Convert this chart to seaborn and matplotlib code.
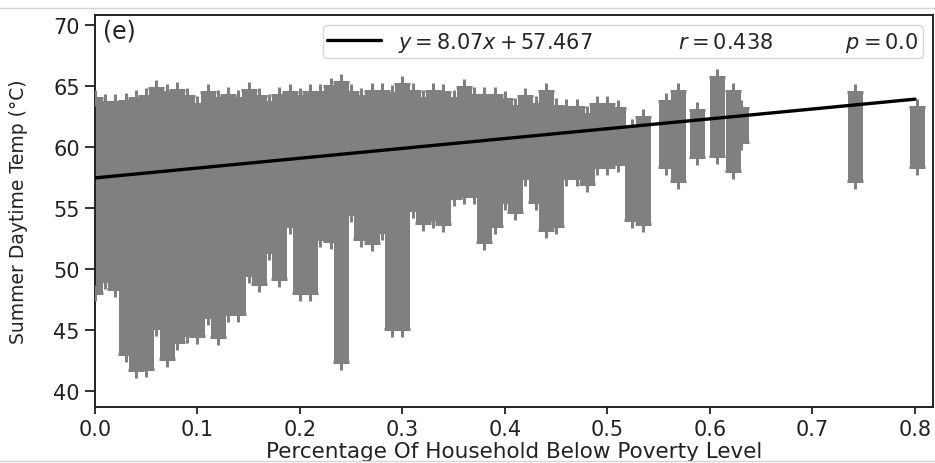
import numpy as np
import pandas as pd
import matplotlib
matplotlib.use("Agg")
import matplotlib.pyplot as plt
from matplotlib.lines import Line2D
import seaborn as sns

# Poverty-level groups with the warmest and coolest summer daytime temperature in each
poverty_level = [
    0.00, 0.01, 0.02, 0.03, 0.04, 0.05, 0.06, 0.07, 0.08, 0.09,
    0.10, 0.11, 0.12, 0.13, 0.14, 0.15, 0.16, 0.17, 0.18, 0.19,
    0.20, 0.21, 0.22, 0.23, 0.24, 0.25, 0.26, 0.27, 0.28, 0.29,
    0.30, 0.31, 0.32, 0.33, 0.34, 0.35, 0.36, 0.37, 0.38, 0.39,
    0.40, 0.41, 0.42, 0.43, 0.44, 0.45, 0.46, 0.47, 0.48, 0.49,
    0.50, 0.51,
    0.524, 0.535, 0.557, 0.569, 0.587, 0.607, 0.622, 0.630, 0.7415, 0.8024,
]
temp_high = [
    64.0, 63.7, 63.7, 63.8, 64.0, 64.2, 64.8, 64.5, 64.7, 64.2,
    63.5, 64.5, 64.0, 64.3, 64.0, 64.7, 64.2, 63.7, 64.3, 64.5,
    64.2, 64.5, 64.5, 65.0, 65.3, 64.5, 64.2, 64.6, 64.6, 64.4,
    65.2, 64.6, 64.0, 64.6, 64.5, 64.0, 64.9, 64.3, 64.3, 64.3,
    63.9, 63.4, 64.2, 63.5, 64.6, 63.4, 63.3, 63.3, 62.7, 63.5,
    63.5, 63.2,
    61.6, 62.5, 63.8, 64.6, 63.0, 65.7, 64.6, 63.2, 64.5, 63.3,
]
temp_low = [
    48.0, 49.0, 48.4, 43.0, 41.7, 41.8, 45.2, 42.6, 44.0, 44.6,
    44.5, 46.1, 44.4, 46.3, 46.3, 49.5, 48.8, 51.4, 49.2, 53.5,
    48.0, 48.0, 52.5, 52.3, 42.4, 54.5, 52.5, 52.1, 53.0, 45.1,
    45.1, 54.8, 53.8, 54.0, 53.7, 55.8, 56.0, 56.0, 52.2, 53.5,
    55.5, 54.7, 57.5, 55.5, 53.2, 53.5, 57.5, 57.5, 57.0, 58.4,
    58.4, 58.6,
    54.0, 53.7, 58.4, 57.2, 59.2, 59.3, 58.0, 60.4, 57.2, 58.4,
]

# Fitted trend and its statistics
slope = 8.07
intercept = 57.467
r_value = 0.438
p_value = 0.0
fit_x = [0.0, 0.80]

x_ticks = [0.0, 0.1, 0.2, 0.3, 0.4, 0.5, 0.6, 0.7, 0.8]
y_ticks = [40, 45, 50, 55, 60, 65, 70]

sns.set_style("ticks")
plt.rcParams["font.family"] = ["DejaVu Sans"]
plt.rcParams["mathtext.fontset"] = "dejavusans"

fig = plt.figure(figsize=(9.35, 4.64), dpi=100)
ax = fig.add_axes([0.1016, 0.1207, 0.8963, 0.8448])

point_color = "#808080"

# Dense stacks of observations in each group
ax.vlines(poverty_level, temp_low, temp_high, colors=point_color,
          linewidth=10.8, capstyle="butt", zorder=2)

ends = pd.DataFrame({
    "poverty": list(poverty_level) * 2,
    "temp": list(temp_low) + list(temp_high),
})
sns.scatterplot(data=ends, x="poverty", y="temp", marker="+", s=130,
                linewidth=2.2, color=point_color, ax=ax, legend=False,
                zorder=3)

fit = pd.DataFrame({"x": fit_x, "y": [intercept + slope * v for v in fit_x]})
label = (rf"$y = {slope:.2f}x + {intercept:.3f}$" + " " * 13
         + rf"$r = {r_value:.3f}$" + " " * 11 + rf"$p = {p_value:.1f}$")
sns.lineplot(data=fit, x="x", y="y", color="black", linewidth=2.4,
             ax=ax, label=label, zorder=4)

ax.set_xlim(0.0, 0.8176)
ax.set_ylim(38.69, 70.82)
ax.set_xticks(x_ticks)
ax.set_xticklabels([f"{v:.1f}" for v in x_ticks])
ax.set_yticks(y_ticks)
ax.set_yticklabels([str(v) for v in y_ticks])
ax.tick_params(axis="both", labelsize=15, colors="#222222", width=1.3)
ax.tick_params(axis="x", length=5, pad=4)
ax.tick_params(axis="y", length=7, pad=4)
for side in ax.spines.values():
    side.set_color("#222222")
    side.set_linewidth(1.4)

ax.set_xlabel("Percentage Of Household Below Poverty Level", fontsize=15.5,
              color="#222222", labelpad=1)
ax.set_ylabel("Summer Daytime Temp (°C)", fontsize=13.5, color="#222222")
ax.yaxis.set_label_coords(-0.080, 0.5)

ax.text(0.009, 0.99, "(e)", transform=ax.transAxes, fontsize=17,
        va="top", ha="left", color="#222222")

leg = ax.legend(loc="upper right", fontsize=15, handlelength=2.6,
                handletextpad=0.8, borderpad=0.2, frameon=True, fancybox=True)
leg.get_frame().set_edgecolor("#cccccc")

# thin frame lines of the panel
fig.add_artist(Line2D([0, 1], [1 - 9 / 464] * 2, transform=fig.transFigure,
                      color="#d4d4d4", linewidth=1))
fig.add_artist(Line2D([0, 1], [1 - 462 / 464] * 2, transform=fig.transFigure,
                      color="#d4d4d4", linewidth=1))

fig.savefig("out.png", dpi=100, facecolor="white")
